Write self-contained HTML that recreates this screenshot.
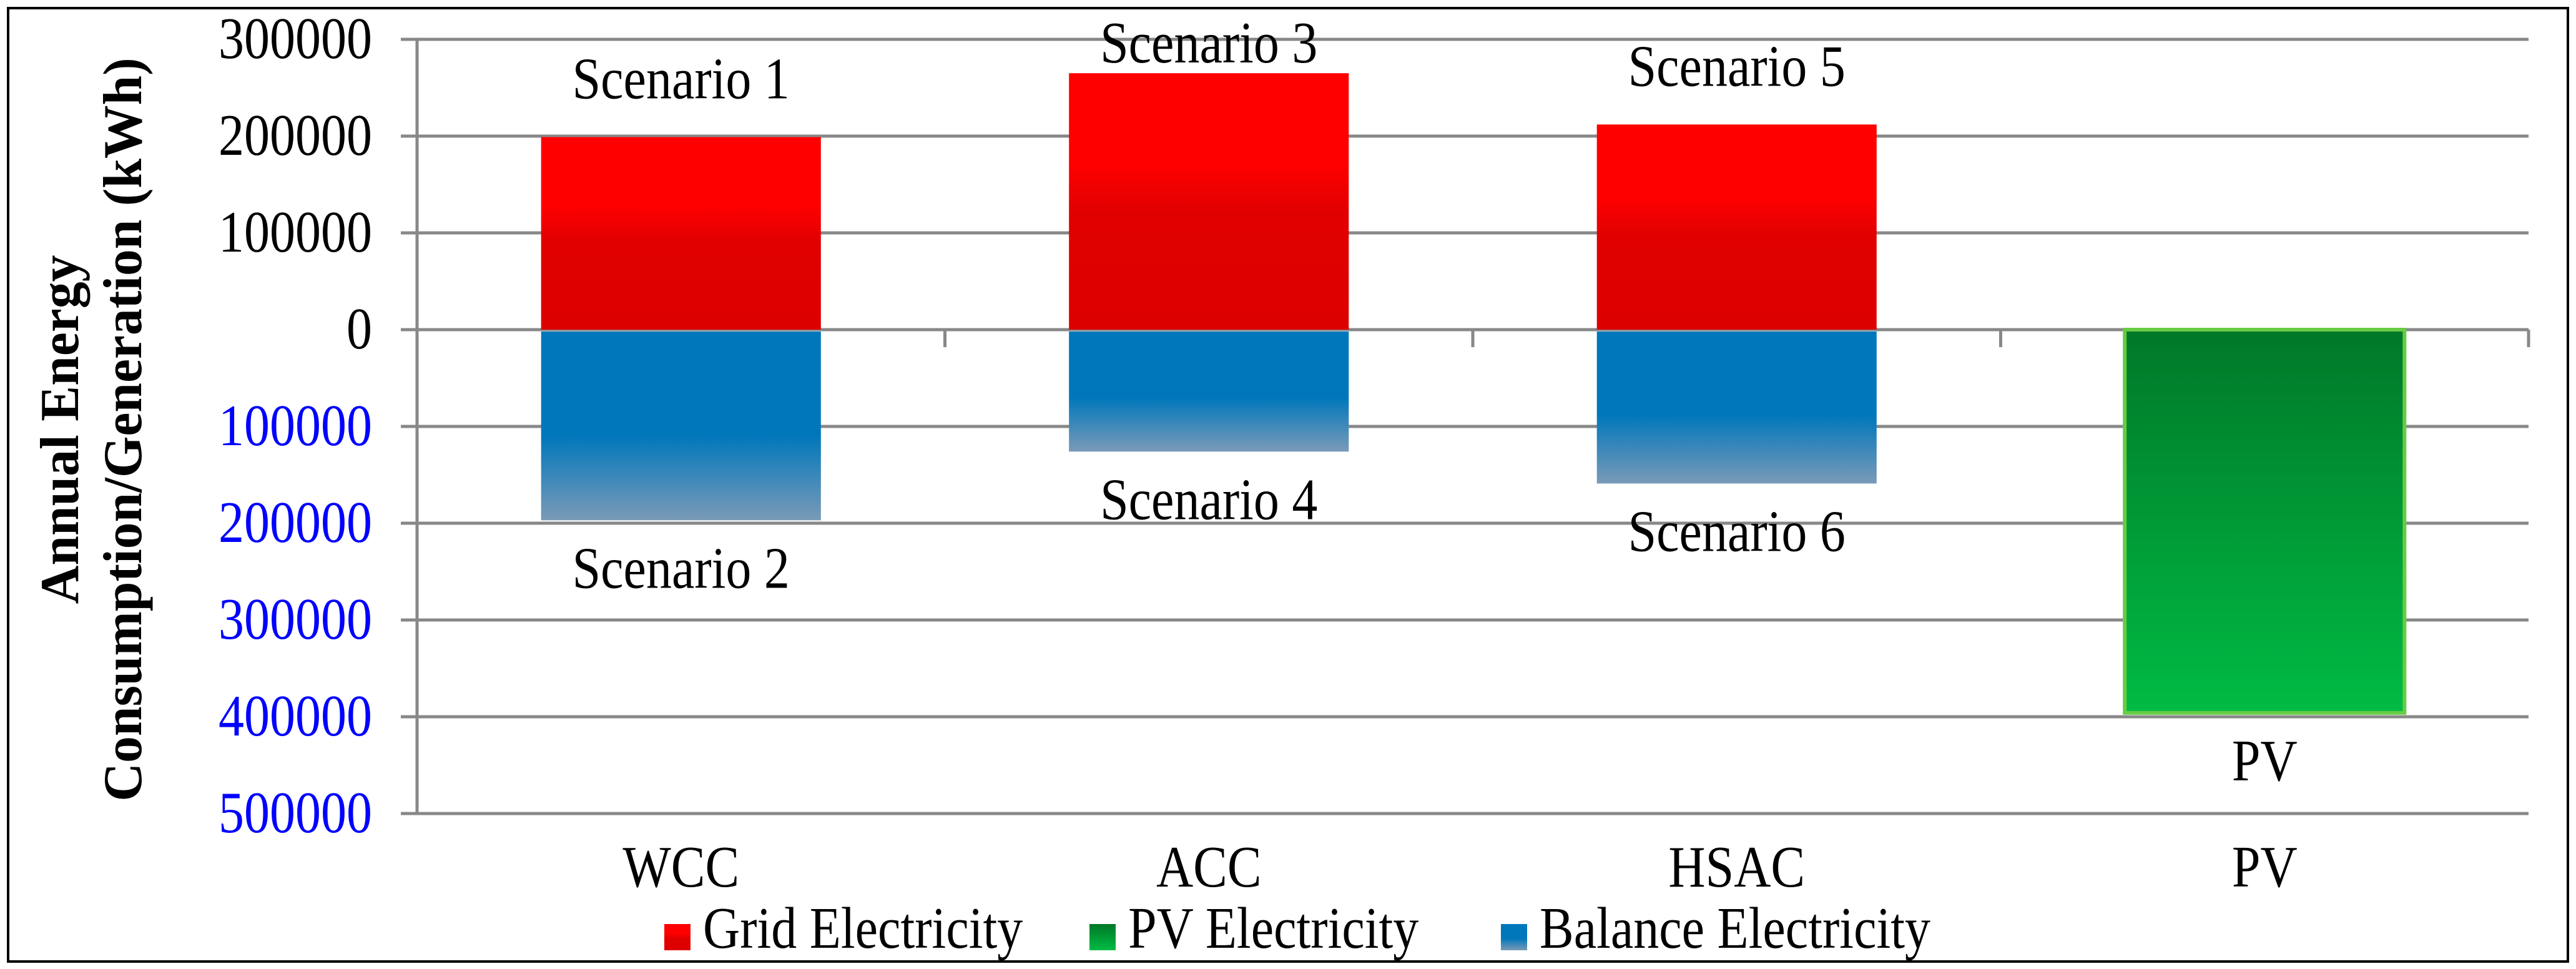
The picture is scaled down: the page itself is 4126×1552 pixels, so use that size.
<!DOCTYPE html>
<html><head><meta charset="utf-8"><style>
html,body{margin:0;padding:0;background:#fff}
svg{display:block;font-family:"Liberation Serif",serif}
</style></head><body>
<svg id="c" width="4126" height="1552" viewBox="0 0 4126 1552" xmlns="http://www.w3.org/2000/svg">
<defs>
<linearGradient id="gR" x1="0" y1="0" x2="0" y2="1"><stop offset="0" stop-color="#ff0000"/><stop offset="0.35" stop-color="#ff0000"/><stop offset="0.55" stop-color="#e00000"/><stop offset="1" stop-color="#dd0000"/></linearGradient>
<linearGradient id="gB" x1="0" y1="0" x2="0" y2="1"><stop offset="0" stop-color="#0077bb"/><stop offset="0.55" stop-color="#0077bb"/><stop offset="1" stop-color="#7a9ab8"/></linearGradient>
<linearGradient id="gG" x1="0" y1="0" x2="0" y2="1"><stop offset="0" stop-color="#007828"/><stop offset="1" stop-color="#00bb44"/></linearGradient>
</defs>
<rect x="13" y="13" width="4100" height="1527" fill="#fff" stroke="#000" stroke-width="4"/>
<g id="grid"></g><g id="bars"></g><g id="labels"></g>
<text x="0" y="0" transform="translate(125,688) rotate(-90) scale(1.07,1.1)" text-anchor="middle" font-weight="bold" font-size="80"><tspan x="0" dy="0">Annual Energy</tspan><tspan x="0" dy="92">Consumption/Generation (kWh)</tspan></text>
<g>
<g><rect x="1064" y="1480" width="42" height="42" fill="url(#gR)"/><text transform="translate(1126,1518) scale(1,1.15)" font-size="82">Grid Electricity</text></g>
<g><rect x="1745" y="1480" width="42" height="42" fill="url(#gG)"/><text transform="translate(1807,1518) scale(1,1.15)" font-size="82">PV Electricity</text></g>
<g><rect x="2404" y="1480" width="42" height="42" fill="url(#gB)"/><text transform="translate(2466,1518) scale(1,1.15)" font-size="82">Balance Electricity</text></g>
</g>
</svg>
<script>
const categories=["WCC","ACC","HSAC","PV"];
const gridValues=[199000,265000,212000,0];
const balanceValues=[-197000,-126000,-159000,0];
const pvValues=[0,0,0,-396000];
const tickValues=[300000,200000,100000,0,-100000,-200000,-300000,-400000,-500000];
const topLabels=["Scenario 1","Scenario 3","Scenario 5",""];
const bottomLabels=["Scenario 2","Scenario 4","Scenario 6","PV"];
const NS="http://www.w3.org/2000/svg";
const x0=668,x1=4050,yTop=63,yBot=1303,vMax=300000,vMin=-500000;
const y=v=>yTop+(vMax-v)/(vMax-vMin)*(yBot-yTop);
const cw=(x1-x0)/categories.length;
const xc=i=>x0+cw*(i+0.5);
const bw=cw*0.53;
function mk(tag,attrs,parent,text){const e=document.createElementNS(NS,tag);for(const k in attrs)e.setAttribute(k,attrs[k]);if(text!==undefined)e.textContent=text;parent.appendChild(e);return e;}
function txt(x,yy,size,anchor,fill,parent,s){return mk('text',{transform:`translate(${x},${yy}) scale(1,1.15)`,"text-anchor":anchor,"font-size":size,fill:fill},parent,s);}
const G=document.getElementById('grid'),B=document.getElementById('bars'),L=document.getElementById('labels');
tickValues.forEach(v=>{
 const l=mk('line',{x1:x0-26,x2:x1,y1:y(v),y2:y(v),stroke:'#888',"stroke-width":5},G);
 
 
 const t=txt(596,y(v)+30,82,'end',v<0?'#0000ff':'#000',L,String(Math.abs(v)));
 
 
});
const ax=mk('line',{x1:x0,x2:x0,y1:yTop,y2:yBot,stroke:'#888',"stroke-width":5},G);


for(let i=0;i<=categories.length;i++){
 const tk=mk('line',{x1:x0+cw*i,x2:x0+cw*i,y1:y(0),y2:y(0)+28,stroke:'#888',"stroke-width":5},G);
 
 
}
categories.forEach((c,i)=>{
 const cx=xc(i);
 if(gridValues[i]>0){const r=mk('rect',{x:cx-bw/2,y:y(gridValues[i]),width:bw,height:y(0)-y(gridValues[i]),fill:'url(#gR)'},B);
  
  }
 if(balanceValues[i]<0){const r=mk('rect',{x:cx-bw/2,y:y(0)+3,width:bw,height:y(balanceValues[i])-y(0)-3,fill:'url(#gB)'},B);
  
  }
 if(pvValues[i]<0){const r=mk('rect',{x:cx-bw/2,y:y(0),width:bw,height:y(pvValues[i])-y(0),fill:'url(#gG)',stroke:'#66cc44',"stroke-width":6},B);
  
  }
 const top=Math.max(gridValues[i],0);
 if(topLabels[i]){const t=txt(cx,Math.max(y(top)-62,100),82,'middle','#000',L,topLabels[i]);
  
  }
 const bot=Math.min(balanceValues[i],pvValues[i]);
 const bt=txt(cx,y(bot)+108,82,'middle','#000',L,bottomLabels[i]);
 
 
 const xl=txt(cx,1420,82,'middle','#000',L,c);
 
 
});
</script>
</body></html>
